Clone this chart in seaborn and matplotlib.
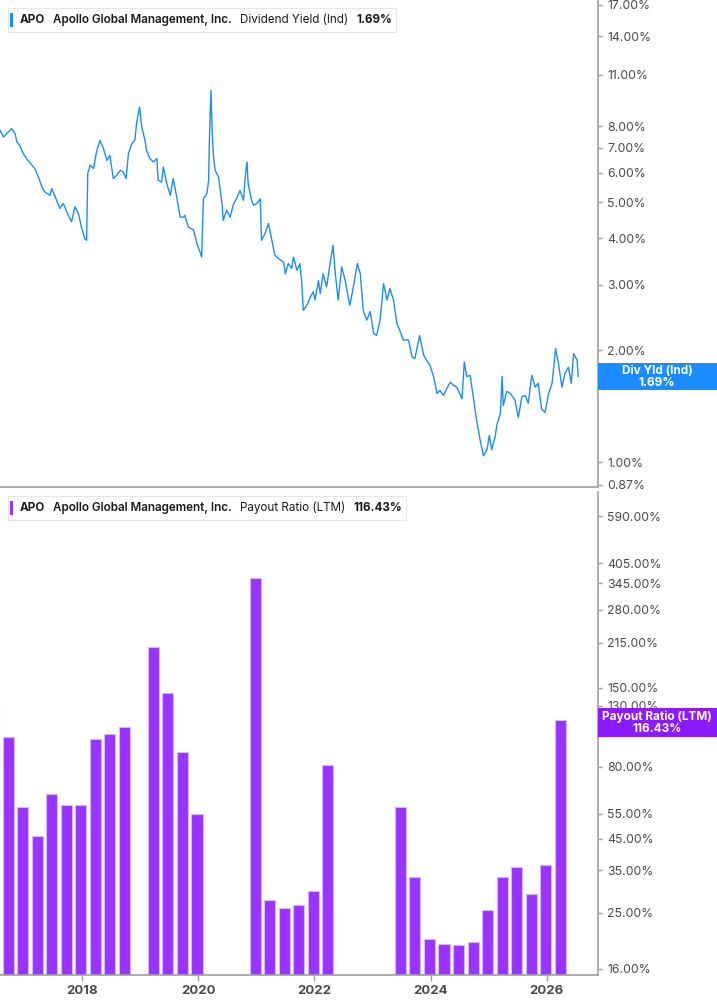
import matplotlib
import numpy as np
import pandas as pd
import seaborn as sns
from matplotlib import pyplot as plt
from matplotlib.ticker import FixedLocator, NullLocator

matplotlib.use("Agg")

# dividend yield (Ind), decimal year vs percent
yield_dates = [
    2016.59, 2016.65, 2016.79, 2016.85, 2016.88, 2016.93, 2016.99, 2017.05, 2017.14, 2017.19,
    2017.25, 2017.31, 2017.36, 2017.45, 2017.48, 2017.54, 2017.62, 2017.68, 2017.74, 2017.82,
    2017.88, 2017.94, 2017.99, 2018.05, 2018.08, 2018.10, 2018.14, 2018.20, 2018.25, 2018.31,
    2018.37, 2018.43, 2018.48, 2018.54, 2018.60, 2018.66, 2018.71, 2018.76, 2018.80, 2018.86,
    2018.91, 2018.94, 2018.99, 2019.03, 2019.09, 2019.11, 2019.17, 2019.23, 2019.29, 2019.31,
    2019.37, 2019.40, 2019.46, 2019.52, 2019.57, 2019.63, 2019.69, 2019.75, 2019.77, 2019.83,
    2019.92, 2019.98, 2020.03, 2020.06, 2020.09, 2020.15, 2020.18, 2020.19, 2020.22, 2020.24,
    2020.26, 2020.29, 2020.35, 2020.41, 2020.43, 2020.49, 2020.55, 2020.61, 2020.66, 2020.72,
    2020.78, 2020.81, 2020.84, 2020.86, 2020.92, 2020.95, 2021.01, 2021.07, 2021.09, 2021.15,
    2021.21, 2021.32, 2021.38, 2021.47, 2021.50, 2021.55, 2021.61, 2021.64, 2021.70, 2021.75,
    2021.78, 2021.81, 2021.87, 2021.93, 2021.98, 2022.01, 2022.07, 2022.10, 2022.15, 2022.21,
    2022.27, 2022.32, 2022.36, 2022.41, 2022.47, 2022.53, 2022.58, 2022.61, 2022.67, 2022.74,
    2022.79, 2022.84, 2022.90, 2022.96, 2023.02, 2023.07, 2023.13, 2023.19, 2023.25, 2023.30,
    2023.36, 2023.42, 2023.47, 2023.53, 2023.62, 2023.68, 2023.73, 2023.81, 2023.88, 2023.93,
    2023.99, 2024.05, 2024.11, 2024.16, 2024.22, 2024.28, 2024.34, 2024.39, 2024.45, 2024.54,
    2024.58, 2024.62, 2024.68, 2024.74, 2024.79, 2024.85, 2024.91, 2024.97, 2025.01, 2025.05,
    2025.11, 2025.14, 2025.20, 2025.23, 2025.25, 2025.31, 2025.37, 2025.45, 2025.51, 2025.57,
    2025.63, 2025.68, 2025.74, 2025.80, 2025.85, 2025.91, 2025.97, 2026.03, 2026.09, 2026.15,
    2026.20, 2026.26, 2026.31, 2026.37, 2026.42, 2026.46, 2026.52, 2026.54,
]
yield_values = [
    7.81, 7.49, 7.89, 7.65, 7.26, 7.11, 6.76, 6.55, 6.29, 6.16,
    5.85, 5.50, 5.33, 5.22, 5.44, 5.17, 4.81, 4.96, 4.71, 4.43,
    4.86, 4.66, 4.29, 3.99, 3.95, 5.97, 6.29, 6.16, 6.83, 7.34,
    6.97, 6.48, 6.69, 5.79, 5.91, 6.10, 6.03, 5.79, 6.76, 7.19,
    7.34, 8.14, 9.02, 7.97, 7.26, 6.90, 6.55, 6.42, 6.55, 5.73,
    5.67, 6.22, 5.61, 5.22, 5.79, 5.17, 4.56, 4.56, 4.61, 4.29,
    4.21, 3.87, 3.68, 3.56, 5.11, 5.28, 5.73, 7.04, 10.0, 7.81,
    6.76, 6.10, 5.85, 4.96, 4.47, 4.76, 4.56, 4.96, 5.11, 5.38,
    5.06, 5.85, 6.42, 5.61, 5.06, 4.91, 4.96, 5.11, 3.95, 4.12,
    4.38, 3.60, 3.53, 3.45, 3.21, 3.42, 3.32, 3.56, 3.28, 3.42,
    3.08, 2.56, 2.64, 2.78, 2.87, 2.73, 3.08, 2.84, 3.21, 2.96,
    3.42, 3.83, 3.21, 2.73, 3.35, 3.08, 2.78, 2.64, 2.96, 3.42,
    3.21, 2.56, 2.41, 2.54, 2.22, 2.19, 2.41, 3.02, 2.73, 2.93,
    2.73, 2.36, 2.26, 2.13, 2.13, 1.92, 1.90, 2.19, 1.94, 1.88,
    1.82, 1.70, 1.53, 1.56, 1.51, 1.58, 1.64, 1.61, 1.59, 1.48,
    1.86, 1.70, 1.71, 1.47, 1.30, 1.15, 1.04, 1.08, 1.18, 1.08,
    1.17, 1.26, 1.35, 1.70, 1.42, 1.55, 1.53, 1.47, 1.32, 1.50,
    1.51, 1.44, 1.71, 1.59, 1.63, 1.39, 1.36, 1.53, 1.63, 2.02,
    1.84, 1.59, 1.73, 1.80, 1.63, 1.96, 1.88, 1.70,
]

# payout ratio (LTM), quarterly; None = no bar
payout_dates = [2016.48 + 0.25 * k for k in range(40)]
payout_values = [
    131, 101, 58, 46, 64.4, 59, 59, 99.7, 104, 110,
    None, 208, 144, 90, 54.9, None, None, None, 361, 27.6,
    25.9, 26.6, 29.6, 80.8, None, None, None, None, 58, 33.2,
    20.2, 19.4, 19.3, 19.8, 25.5, 33.1, 36.0, 29.0, 36.6, 116.43,
]

top_ticks = [17, 14, 11, 8, 7, 6, 5, 4, 3, 2, 1, 0.87]
bottom_ticks = [590, 405, 345, 280, 215, 150, 130, 105, 80, 55, 45, 35, 25, 16]
year_ticks = [2018, 2020, 2022, 2024, 2026]

BLUE = "#1a8cff"
PURPLE = "#9933ff"
GRAY = "#9e9e9e"
TXT = "#4a4a4a"

sns.set_theme(style="white")
plt.rcParams["font.family"] = ["Inter", "DejaVu Sans"]

fig = plt.figure(figsize=(7.17, 10.05), dpi=100)
W, H = 717, 1005
x0, x1 = 2016.59, 2026.875
ax1 = fig.add_axes([0, 1 - 487 / H, 597.7 / W, 487 / H])
ax2 = fig.add_axes([0, 1 - 975 / H, 597.7 / W, 483 / H])


def style_axis(ax, ticks, ylim):
    ax.set_yscale("log")
    ax.set_ylim(*ylim)
    ax.set_xlim(x0, x1)
    for side in ["left", "top"]:
        ax.spines[side].set_visible(False)
    for side in ["right", "bottom"]:
        ax.spines[side].set_color(GRAY)
        ax.spines[side].set_linewidth(1.2)
    ax.yaxis.tick_right()
    ax.yaxis.set_major_locator(FixedLocator(ticks))
    ax.yaxis.set_minor_locator(NullLocator())
    ax.set_yticklabels([f"{t:.2f}%" for t in ticks])
    ax.tick_params(axis="y", right=True, length=3, width=1, color=GRAY,
                   labelsize=8.8, labelcolor=TXT, pad=4)
    ax.grid(False)
    ax.set_xlabel("")
    ax.set_ylabel("")


df_line = pd.DataFrame({"date": yield_dates, "yield": yield_values})
sns.lineplot(data=df_line, x="date", y="yield", ax=ax1, color=BLUE, linewidth=1.0)
style_axis(ax1, top_ticks, (0.857, 17.5))
ax1.set_xticks([])

df_bar = pd.DataFrame({"date": payout_dates, "payout": payout_values}).dropna()
ax2.bar(df_bar["date"], df_bar["payout"], width=0.19, color=PURPLE,
        edgecolor="#d9b3ff", linewidth=0.8)
style_axis(ax2, bottom_ticks, (15.2, 715))
ax2.set_xticks(year_ticks)
ax2.set_xticklabels([str(y) for y in year_ticks])
ax2.tick_params(axis="x", bottom=True, length=4, width=1, color=GRAY,
                labelsize=9.5, labelcolor=TXT, pad=3)
for lbl in ax2.get_xticklabels():
    lbl.set_fontweight("bold")

renderer = fig.canvas.get_renderer()


def header(y_px, color, metric, value):
    fy = 1 - y_px / H
    parts = [("APO", "bold"), ("Apollo Global Management, Inc.", "semibold"),
             (metric, "normal"), (value, "bold")]
    x = 20
    for text, weight in parts:
        t = fig.text(x / W, fy, text, va="center", fontsize=8.4, color="#1a1a1a",
                     fontweight=weight, zorder=7)
        x = t.get_window_extent(renderer).x1 + 8
    fig.patches.append(plt.Rectangle((8 / W, fy - 12 / H), (x - 12) / W, 24 / H,
                                     transform=fig.transFigure, facecolor="white",
                                     edgecolor="#e6e6e6", linewidth=0.8, zorder=5))
    fig.patches.append(plt.Rectangle((10 / W, fy - 7 / H), 3 / W, 14 / H,
                                     transform=fig.transFigure, facecolor=color,
                                     edgecolor="none", zorder=6))


header(20, BLUE, "Dividend Yield (Ind)", "1.69%")
header(508, PURPLE, "Payout Ratio (LTM)", "116.43%")


def side_label(y_top, y_bot, color, text):
    fig.patches.append(plt.Rectangle((598 / W, 1 - y_bot / H), 119 / W, (y_bot - y_top) / H,
                                     transform=fig.transFigure, facecolor=color,
                                     edgecolor="none", zorder=5))
    fig.text(657 / W, 1 - (y_top + y_bot) / 2 / H, text, ha="center", va="center",
             color="white", fontsize=8.5, fontweight="bold", linespacing=1.0, zorder=6)


side_label(363, 390, BLUE, "Div Yld (Ind)\n1.69%")
side_label(708, 737, "#8c1aff", "Payout Ratio (LTM)\n116.43%")

fig.savefig("out.png", dpi=100)
